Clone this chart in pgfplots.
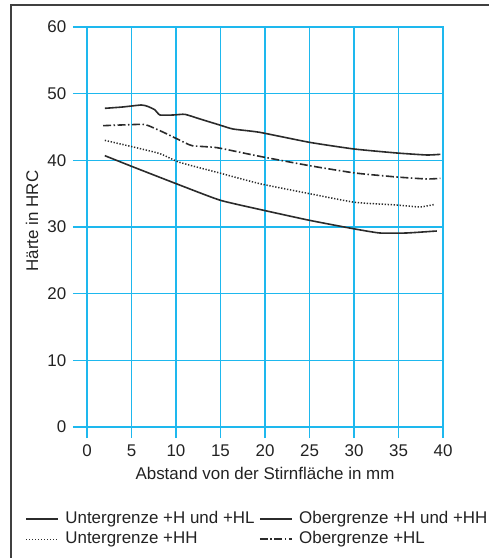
\documentclass[border=0pt]{standalone}
\usepackage{pgfplots}
\pgfplotsset{compat=1.18}
\usepackage{fontspec}
\setmainfont{Liberation Sans}
\definecolor{gridc}{HTML}{1EB8EE}
\definecolor{txt}{HTML}{222222}
\definecolor{crv}{HTML}{2B2B2B}
\begin{document}
\begin{tikzpicture}[x=1bp,y=1bp]
\useasboundingbox (-87,-131) rectangle (402,427);
\draw[line width=1.6bp,color=black!75] (-76,-131) -- (-76,422) -- (402,422);
\begin{axis}[
  scale only axis, width=356bp, height=400bp,
  xmin=0, xmax=40, ymin=0, ymax=60,
  xtick={0,5,...,40}, ytick={0,10,...,60},
  xtick pos=bottom, ytick pos=left,
  tick align=outside,
  xtick style={color=gridc, line width=1.3bp, /pgfplots/major tick length=11bp},
  ytick style={color=gridc, line width=1.3bp, /pgfplots/major tick length=14bp},
  xticklabel style={yshift=-10bp},
  yticklabel style={xshift=-13bp},
  grid=major,
  major grid style={color=gridc, line width=1.3bp},
  axis line style={color=gridc, line width=2.2bp},
  font=\fontsize{17}{20}\selectfont\color{txt},
  /pgf/number format/assume math mode=true,
  xlabel={Abstand von der Stirnfläche in mm},
  ylabel={Härte in HRC},
  xlabel style={at={(axis description cs:0.5,-0.115)}, anchor=center},
  ylabel style={at={(axis description cs:-0.1545,0.515)}, anchor=center},
  legend columns=2,
  legend cell align=left,
  legend style={draw=none, fill=none, inner sep=0pt,
    at={(axis description cs:-0.174,-0.207)}, anchor=north west,
    font=\fontsize{17}{20}\selectfont\color{txt},
    nodes={inner sep=1.5bp, text height=12bp, text depth=3.5bp},
    row sep=1.5bp,
    /tikz/every odd column/.append style={column sep=5bp},
    /tikz/every even column/.append style={column sep=3bp}},
  legend image code/.code={\draw[#1] (0bp,0bp) -- (32bp,0bp);},
]
\addplot[color=crv, line width=1.6bp, smooth, tension=0.3] coordinates {
(2,40.7) (5.2,39.0) (10.4,36.3) (15,34.0) (20.2,32.4) (25,31.0) (30.1,29.7) (32.9,29.1) (35.9,29.1) (39.3,29.4)};
\addlegendentry{Untergrenze +H und +HL}
\addplot[color=crv, line width=1.6bp, smooth, tension=0.3] coordinates {
(2,47.8) (4,48.0) (6.1,48.3) (6.8,48.1) (7.6,47.6) (8.2,46.8) (9.7,46.8) (11,46.9) (12.7,46.2) (14.9,45.3) (16.4,44.7) (19.4,44.2) (25,42.7) (30,41.7) (34.8,41.1) (38.2,40.8) (39.7,40.9)};
\addlegendentry{Obergrenze +H und +HH}
\addplot[color=crv, line width=1.5bp, dash pattern=on 1.3bp off 1.7bp, smooth, tension=0.3] coordinates {
(2,43.0) (5.2,42.0) (8.2,41.0) (10.4,39.7) (14.9,38.1) (19.4,36.5) (25,35.0) (30.1,33.7) (34.8,33.3) (37.4,33.0) (39.1,33.4)};
\addlegendentry{Untergrenze +HH}
\addplot[color=crv, line width=1.6bp, dash pattern=on 8bp off 2.5bp on 1.5bp off 2.5bp, smooth, tension=0.3] coordinates {
(1.8,45.2) (6.1,45.4) (6.9,45.2) (8.6,44.2) (10.3,43.1) (11.8,42.2) (14.6,41.9) (19.4,40.6) (25,39.2) (30.1,38.1) (34.8,37.5) (38.2,37.2) (39.7,37.3)};
\addlegendentry{Obergrenze +HL}
\end{axis}
\end{tikzpicture}
\end{document}
